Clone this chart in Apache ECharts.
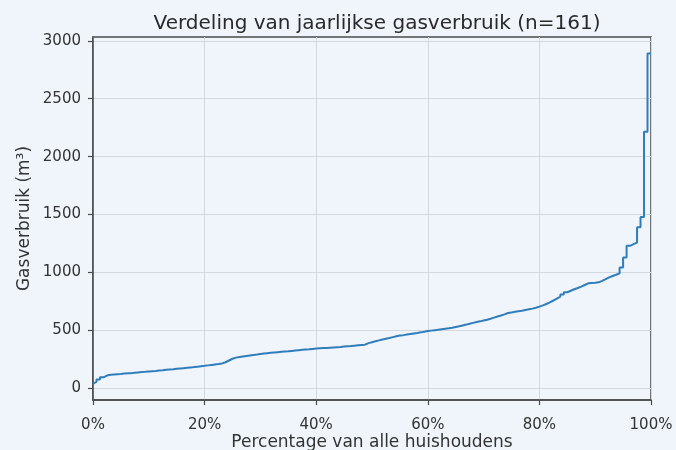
<!DOCTYPE html>
<html>
<head>
<meta charset="utf-8">
<script src="https://cdn.jsdelivr.net/npm/echarts@6/dist/echarts.min.js"></script>
<style>
  html, body { margin: 0; padding: 0; background: #eff5fa; }
  #chart { width: 676px; height: 450px; }
</style>
</head>
<body>
<div id="chart"></div>
<script>
// Sorted yearly gas usage per household (m³), n = 161
const gasUsage = [
  40, 56, 75, 95, 110,
  117, 120, 122, 124, 127, 129, 131, 134, 137,
  140, 142, 145, 148, 150, 153, 156, 160, 163,
  165, 168, 171, 174, 177, 180, 183, 187, 191,
  194, 198, 202, 206, 210, 215,
  225, 240, 255, 265, 271,
  275, 279, 283, 287, 291, 296, 300,
  303, 306, 309, 312, 315, 318, 320, 323, 326, 329,
  332, 335, 337, 340, 343,
  345, 347, 349, 351, 353, 355, 357,
  360, 363, 365, 368, 371, 374, 377,
  390, 398, 406, 414,
  421, 428, 434, 442, 450,
  455, 459, 464, 469, 474, 478, 483, 489, 494,
  498, 502, 506, 510, 514, 518, 523,
  530, 536, 543, 550, 558,
  565, 572, 578, 585, 592,
  600, 610, 620, 628, 638, 650,
  655, 660, 665, 670, 676, 682, 688, 695,
  705, 716, 728, 742, 758,
  775, 792, 810, 829,
  842, 855, 866, 878, 892, 906,
  910, 912, 915,
  928, 942, 958,
  970, 980, 992,
  1043, 1129, 1230, 1244, 1258, 1390, 1480, 2215, 2890
];
const xTicks = [0, 20, 40, 60, 80, 100];
const yTicks = [0, 500, 1000, 1500, 2000, 2500, 3000];
const titleText = 'Verdeling van jaarlijkse gasverbruik (n=161)';
const xName = 'Percentage van alle huishoudens';
const yName = 'Gasverbruik (m³)';

const n = gasUsage.length;
const seriesData = gasUsage.map((v, i) => [i / (n - 1) * 100, v]);

const font = 'DejaVu Sans';
const chart = echarts.init(document.getElementById('chart'), null, { renderer: 'canvas' });
chart.setOption({
  backgroundColor: '#eff5fa',
  animation: false,
  title: {
    text: titleText,
    left: 372, top: 9, textAlign: 'center',
    textStyle: { fontFamily: font, fontSize: 20, fontWeight: 'normal', color: '#2a2a2a' }
  },
  grid: {
    left: 93, right: 25, top: 37, bottom: 50,
    outerBoundsMode: 'none', containLabel: false,
    show: true, backgroundColor: '#eff5fa', borderColor: '#4a4a4a', borderWidth: 1.5
  },
  xAxis: {
    type: 'value', min: 0, max: 100, interval: 20,
    name: xName, nameLocation: 'middle', nameGap: 34, nameMoveOverlap: false,
    nameTextStyle: { fontFamily: font, fontSize: 17, color: '#333' },
    axisLine: { show: true, onZero: false, lineStyle: { color: '#4a4a4a', width: 1.5 } },
    axisTick: { show: true, length: 5, customValues: xTicks, lineStyle: { color: '#4a4a4a', width: 1.2 } },
    axisLabel: { fontFamily: font, fontSize: 15, color: '#333', margin: 18, customValues: xTicks,
                 formatter: v => v + '%' },
    splitLine: { show: true, lineStyle: { color: '#d3d9df', width: 1 } }
  },
  yAxis: {
    type: 'value', min: -101, max: 3033, splitNumber: 6,
    name: yName, nameLocation: 'middle', nameGap: 60, nameMoveOverlap: false,
    nameTextStyle: { fontFamily: font, fontSize: 17, color: '#333' },
    axisLine: { show: true, onZero: false, lineStyle: { color: '#4a4a4a', width: 1.5 } },
    axisTick: { show: true, length: 5, customValues: yTicks, lineStyle: { color: '#4a4a4a', width: 1.2 } },
    axisLabel: { fontFamily: font, fontSize: 15, color: '#333', margin: 12, customValues: yTicks,
                 formatter: v => String(v) },
    splitLine: { show: true, lineStyle: { color: '#d3d9df', width: 1 } }
  },
  series: [{
    type: 'line', step: 'start', data: seriesData, showSymbol: false,
    lineStyle: { color: '#2f7dbb', width: 2 }
  }]
});
</script>
</body>
</html>
